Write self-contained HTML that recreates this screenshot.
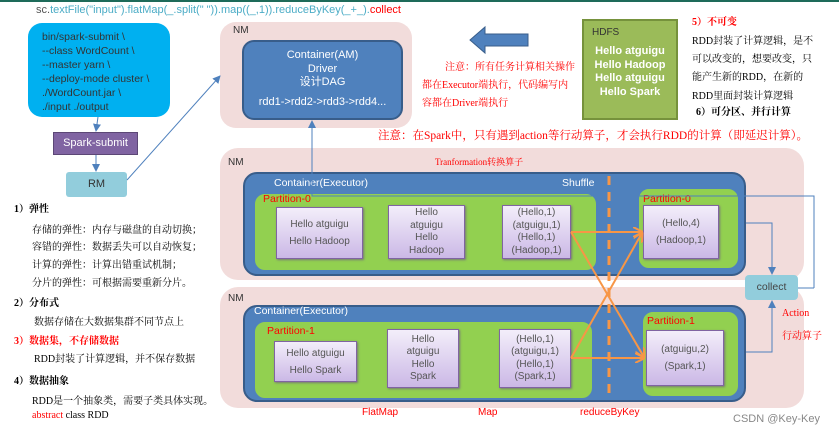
<!DOCTYPE html>
<html><head><meta charset="utf-8"><style>
body{margin:0;width:839px;height:438px;background:#fff;position:relative;overflow:hidden;font-family:"Liberation Sans","Noto Sans CJK SC",sans-serif}
.a{position:absolute;box-sizing:border-box}
.t{position:absolute;white-space:nowrap}
.pink{background:#f2dcdb;border-radius:16px}
.exec{background:#4f81bd;border:2px solid #385d8a;border-radius:14px}
.grn{background:#92d050;border:2px solid #4f81bd;border-radius:12px}
.bx{background:linear-gradient(#f3eefa,#cbb8e6);border:1px solid #8064a2;box-shadow:1px 1px 2px #777;color:#555;font-size:10px;text-align:center;display:flex;flex-direction:column;justify-content:center;line-height:17px}
.red{color:#f00}
.cn{font-family:"Liberation Serif","Noto Serif CJK SC",serif;font-size:10px;color:#000}
</style></head><body>
<div class="a" style="left:0;top:0;width:839px;height:2px;background:#1e6b5a"></div>
<div class="t" style="left:36px;top:4px;font-size:11px;color:#4bacc6"><span style="color:#555">sc.</span>textFile("input").flatMap(_.split(" ")).map((_,1)).reduceByKey(_+_).<span class="red">collect</span></div>

<div class="a" style="left:28px;top:23px;width:142px;height:94px;background:#00b0f0;border-radius:14px;padding:7px 0 0 14px;font-size:10.5px;line-height:14px;color:#333">bin/spark-submit \<br>--class WordCount \<br>--master yarn \<br>--deploy-mode cluster \<br>./WordCount.jar \<br>./input ./output</div>
<div class="a" style="left:53px;top:132px;width:85px;height:23px;background:#8064a2;border:1px solid #5c4776;color:#fff;font-size:11px;text-align:center;line-height:21px">Spark-submit</div>
<div class="a" style="left:66px;top:172px;width:61px;height:25px;background:#92cddc;border-radius:3px;color:#333;font-size:11px;text-align:center;line-height:25px">RM</div>

<div class="a pink" style="left:220px;top:22px;width:192px;height:106px"></div>
<div class="t" style="left:233px;top:25px;font-size:10px;color:#333">NM</div>
<div class="a" style="left:242px;top:40px;width:161px;height:80px;background:#4f81bd;border:2px solid #385d8a;border-radius:12px;color:#fff;font-size:11px;text-align:center;padding-top:7px;line-height:13.5px">Container(AM)<br>Driver<br>设计DAG<div style="margin-top:6px">rdd1-&gt;rdd2-&gt;rdd3-&gt;rdd4...</div></div>

<div class="t red cn" style="left:445px;top:58px;color:#f00">注意：所有任务计算相关操作</div>
<div class="t red cn" style="left:422px;top:76px;color:#f00">都在Executor端执行，代码编写内</div>
<div class="t red cn" style="left:422px;top:94px;color:#f00">容都在Driver端执行</div>

<div class="a" style="left:582px;top:19px;width:96px;height:101px;background:#9bbb59;border:2px solid #76923c;color:#fff;font-size:11px;font-weight:bold;text-align:center;line-height:13.5px;padding-top:24px">Hello atguigu<br>Hello Hadoop<br>Hello atguigu<br>Hello Spark</div>
<div class="t" style="left:592px;top:27px;font-size:10px;color:#333">HDFS</div>

<div class="t cn" style="left:692px;top:13px;color:#f00;font-weight:bold">5）不可变</div>
<div class="t cn" style="left:692px;top:32px">RDD封装了计算逻辑，是不</div>
<div class="t cn" style="left:692px;top:50px">可以改变的，想要改变，只</div>
<div class="t cn" style="left:692px;top:68px">能产生新的RDD，在新的</div>
<div class="t cn" style="left:692px;top:87px">RDD里面封装计算逻辑</div>
<div class="t cn" style="left:696px;top:103px;font-weight:bold">6）可分区、并行计算</div>

<div class="t" style="left:378px;top:127px;font-size:11.5px;color:#f00;font-family:'Liberation Serif','Noto Serif CJK SC',serif">注意：在Spark中，只有遇到action等行动算子，才会执行RDD的计算（即延迟计算）。</div>

<div class="t cn" style="left:14px;top:200px;font-weight:bold">1）弹性</div>
<div class="t cn" style="left:32px;top:221px">存储的弹性：内存与磁盘的自动切换；</div>
<div class="t cn" style="left:32px;top:238px">容错的弹性：数据丢失可以自动恢复；</div>
<div class="t cn" style="left:32px;top:256px">计算的弹性：计算出错重试机制；</div>
<div class="t cn" style="left:32px;top:274px">分片的弹性：可根据需要重新分片。</div>
<div class="t cn" style="left:14px;top:294px;font-weight:bold">2）分布式</div>
<div class="t cn" style="left:34px;top:313px">数据存储在大数据集群不同节点上</div>
<div class="t cn" style="left:14px;top:332px;font-weight:bold;color:#f00">3）数据集，不存储数据</div>
<div class="t cn" style="left:34px;top:350px">RDD封装了计算逻辑，并不保存数据</div>
<div class="t cn" style="left:14px;top:372px;font-weight:bold">4）数据抽象</div>
<div class="t cn" style="left:32px;top:392px">RDD是一个抽象类，需要子类具体实现。</div>
<div class="t cn" style="left:32px;top:410px"><span style="color:#f00">abstract</span> class RDD</div>

<div class="a pink" style="left:220px;top:148px;width:584px;height:132px;border-radius:18px"></div>
<div class="t" style="left:228px;top:157px;font-size:10px;color:#333">NM</div>
<div class="t cn" style="left:435px;top:155px;color:#f00;font-size:9px">Tranformation转换算子</div>
<div class="a pink" style="left:220px;top:287px;width:584px;height:121px;border-radius:18px"></div>
<div class="t" style="left:228px;top:293px;font-size:10px;color:#333">NM</div>

<div class="a exec" style="left:243px;top:172px;width:503px;height:104px"></div>
<div class="t" style="left:274px;top:177px;font-size:10.5px;color:#fff">Container(Executor)</div>
<div class="t" style="left:562px;top:177px;font-size:10.5px;color:#fff">Shuffle</div>
<div class="a grn" style="left:253px;top:192px;width:345px;height:80px"></div>
<div class="t" style="left:263px;top:193px;font-size:10.5px;color:#f00">Partition-0</div>
<div class="a bx" style="left:276px;top:207px;width:87px;height:52px">Hello atguigu<br>Hello Hadoop</div>
<div class="a bx" style="left:388px;top:205px;width:77px;height:54px;line-height:12.5px">Hello<br>atguigu<br>Hello<br>Hadoop</div>
<div class="a bx" style="left:502px;top:205px;width:69px;height:54px;line-height:12.5px">(Hello,1)<br>(atguigu,1)<br>(Hello,1)<br>(Hadoop,1)</div>
<div class="a grn" style="left:637px;top:187px;width:103px;height:83px"></div>
<div class="t" style="left:643px;top:193px;font-size:10.5px;color:#f00">Partition-0</div>
<div class="a bx" style="left:643px;top:205px;width:76px;height:54px">(Hello,4)<br>(Hadoop,1)</div>

<div class="a exec" style="left:243px;top:305px;width:503px;height:97px"></div>
<div class="t" style="left:254px;top:305px;font-size:10.5px;color:#fff">Container(Executor)</div>
<div class="a grn" style="left:253px;top:320px;width:341px;height:80px"></div>
<div class="t" style="left:267px;top:325px;font-size:10.5px;color:#f00">Partition-1</div>
<div class="a bx" style="left:274px;top:341px;width:83px;height:41px">Hello atguigu<br>Hello Spark</div>
<div class="a bx" style="left:387px;top:329px;width:72px;height:59px;line-height:12.5px">Hello<br>atguigu<br>Hello<br>Spark</div>
<div class="a bx" style="left:499px;top:329px;width:72px;height:59px;line-height:12.5px">(Hello,1)<br>(atguigu,1)<br>(Hello,1)<br>(Spark,1)</div>
<div class="a grn" style="left:641px;top:310px;width:99px;height:88px"></div>
<div class="t" style="left:647px;top:315px;font-size:10.5px;color:#f00">Partition-1</div>
<div class="a bx" style="left:646px;top:330px;width:78px;height:56px">(atguigu,2)<br>(Spark,1)</div>

<div class="a" style="left:745px;top:275px;width:53px;height:25px;background:#92cddc;border-radius:4px;color:#444;font-size:10.5px;text-align:center;line-height:25px">collect</div>
<div class="t cn" style="left:782px;top:308px;color:#f00">Action</div>
<div class="t cn" style="left:782px;top:327px;color:#f00">行动算子</div>

<div class="t" style="left:362px;top:407px;font-size:10px;color:#f00">FlatMap</div>
<div class="t" style="left:478px;top:407px;font-size:10px;color:#f00">Map</div>
<div class="t" style="left:580px;top:407px;font-size:10px;color:#f00">reduceByKey</div>
<div class="t" style="left:733px;top:413px;font-size:11px;color:#888">CSDN @Key-Key</div>

<svg class="a" style="left:0;top:0" width="839" height="438">
<defs>
<marker id="b" markerWidth="8" markerHeight="8" refX="7" refY="4" orient="auto" markerUnits="userSpaceOnUse"><path d="M0,0L8,4L0,8z" fill="#4f81bd"/></marker>
<marker id="o" markerWidth="10" markerHeight="10" refX="9" refY="5" orient="auto" markerUnits="userSpaceOnUse"><path d="M0,0L10,5L0,10" fill="none" stroke="#f79646" stroke-width="2"/></marker>
</defs>
<g stroke="#4f81bd" stroke-width="1" fill="none">
<line x1="98" y1="117" x2="96" y2="131" marker-end="url(#b)"/>
<line x1="96" y1="155" x2="96" y2="171" marker-end="url(#b)"/>
<line x1="127" y1="180" x2="220" y2="76" marker-end="url(#b)"/>
<polyline points="814,288 814,196 312,196 312,121" marker-end="url(#b)"/>
<line x1="798" y1="288" x2="814" y2="288"/>
<polyline points="746,223 772,223 772,274" marker-end="url(#b)"/>
<polyline points="746,352 772,352 772,301" marker-end="url(#b)"/>
</g>
<path d="M470,40 L485,27 L485,34 L528,34 L528,46 L485,46 L485,53 Z" fill="#4f81bd" stroke="#385d8a"/>
<line x1="609" y1="176" x2="609" y2="400" stroke="#f79646" stroke-width="3" stroke-dasharray="9,7"/>
<g stroke="#f79646" stroke-width="2" fill="none">
<line x1="571" y1="232" x2="642" y2="232" marker-end="url(#o)"/>
<line x1="571" y1="232" x2="644" y2="357" marker-end="url(#o)"/>
<line x1="571" y1="358" x2="644" y2="358" marker-end="url(#o)"/>
<line x1="571" y1="358" x2="642" y2="233" marker-end="url(#o)"/>
</g>
</svg>
</body></html>
